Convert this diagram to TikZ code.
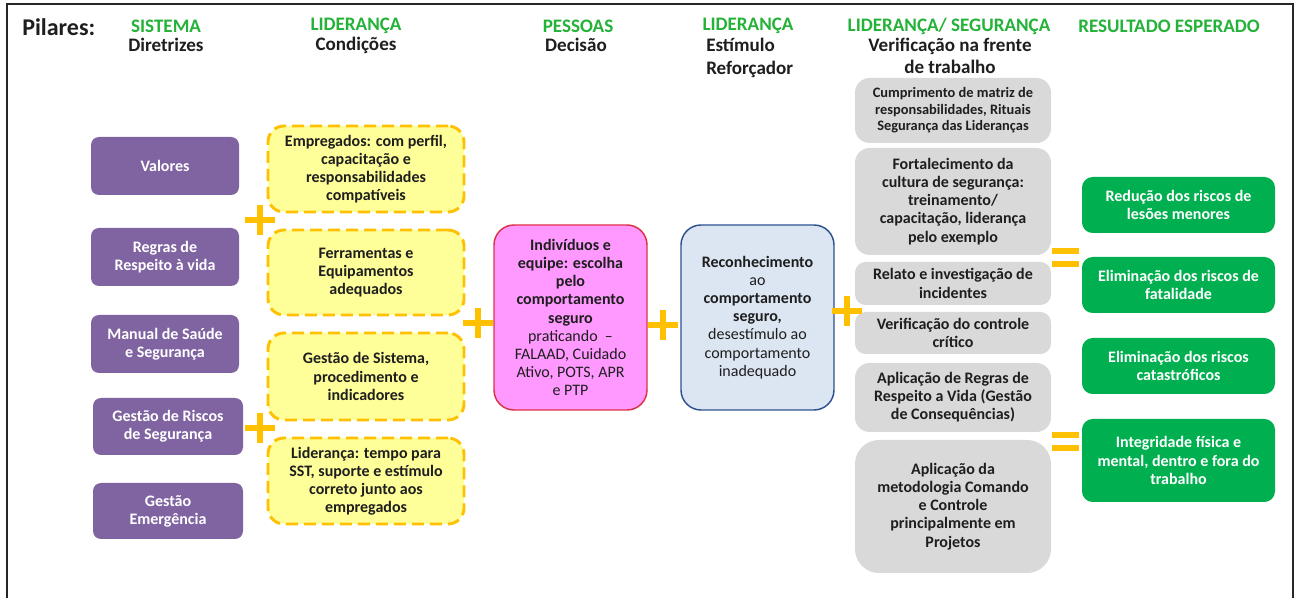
\documentclass[tikz,border=0pt]{standalone}
\usepackage{fontspec}
\setmainfont{Carlito}
\definecolor{purp}{RGB}{128,100,162}
\definecolor{ylwfill}{RGB}{255,255,153}
\definecolor{ylwline}{RGB}{255,192,0}
\definecolor{pinkfill}{RGB}{255,153,255}
\definecolor{pinkline}{RGB}{220,50,70}
\definecolor{bluefill}{RGB}{220,230,242}
\definecolor{blueline}{RGB}{47,82,143}
\definecolor{grayfill}{RGB}{217,217,217}
\definecolor{grnfill}{RGB}{0,176,80}
\definecolor{hdrgreen}{RGB}{36,178,56}
\definecolor{txt}{RGB}{30,30,30}
\newcommand{\bxfont}{\fontsize{12}{13.6}\selectfont\bfseries}
\newcommand{\smfont}{\fontsize{10.8}{12.5}\selectfont\bfseries}
\begin{document}
\begin{tikzpicture}[x=0.75pt,y=-0.75pt,
  bx/.style 2 args={minimum width=#1*0.75pt, minimum height=#2*0.75pt, inner sep=0pt, align=center},
  purpbox/.style={fill=purp, draw=none, rounded corners=6pt, text=white, font=\bxfont},
  ylwbox/.style={fill=ylwfill, draw=ylwline, line width=2.2pt, dash pattern=on 9pt off 4.5pt, rounded corners=12pt, text=txt, font=\bxfont},
  pinkbox/.style={fill=pinkfill, draw=pinkline, line width=1.1pt, rounded corners=15pt, text=txt, font=\bxfont},
  bluebox/.style={fill=bluefill, draw=blueline, line width=1.1pt, rounded corners=15pt, text=txt, font=\bxfont},
  graybox/.style={fill=grayfill, draw=none, rounded corners=11pt, text=txt, font=\bxfont},
  grnbox/.style={fill=grnfill, draw=none, rounded corners=8pt, text=white, font=\bxfont},
  hdr/.style={font=\fontsize{14.3}{16}\selectfont\bfseries, text=hdrgreen, inner sep=0pt},
  sub/.style={font=\fontsize{14.3}{16}\selectfont\bfseries, text=txt, inner sep=0pt},
  sign/.style={draw=ylwline, line width=3.8pt}
]
\useasboundingbox (0,0) rectangle (1297,598);
\fill[white] (0,0) rectangle (1297,598);
% frame
\coordinate (fbl) at (7,598);
\coordinate (ftl) at (7,4);
\coordinate (ftr) at (1293,4);
\coordinate (fbr) at (1293,598);
\draw[line width=1.1pt, black!85] (fbl) -- (ftl) -- (ftr) -- (fbr);

% headers
\node[font=\fontsize{18}{20}\selectfont\bfseries, text=txt, anchor=west, inner sep=0pt] (pil) at (22,27) {Pilares:};
\node[hdr] (h1) at (166,26) {SISTEMA};
\node[sub] (s1) at (166,45) {Diretrizes};
\node[hdr] (h2) at (356,26) {LIDERANÇA};
\node[sub] (s2) at (356,45) {Condições};
\node[hdr] (h3) at (578,26) {PESSOAS};
\node[sub] (s3) at (576,45) {Decisão};
\node[hdr] (h4) at (748,26) {LIDERANÇA};
\node[sub, anchor=north west, align=left, font=\fontsize{14.3}{17}\selectfont\bfseries] (s4) at (706,38) {Estímulo\\Reforçador};
\node[hdr] (h5) at (949,26) {LIDERANÇA/ SEGURANÇA};
\node[sub, anchor=north, align=center, font=\fontsize{14.3}{16}\selectfont\bfseries] (s5) at (950,38) {Verificação na frente\\de trabalho};
\node[hdr] (h6) at (1169,26) {RESULTADO ESPERADO};

% purple column
\node[purpbox, bx={148}{58}] (p1) at (165,166) {Valores};
\node[purpbox, bx={148}{58}] (p2) at (165,257) {Regras de\\Respeito à vida};
\node[purpbox, bx={148}{58}] (p3) at (165,344) {Manual de Saúde\\e Segurança};
\node[purpbox, bx={150}{57}] (p4) at (168,426.5) {Gestão de Riscos\\de Segurança};
\node[purpbox, bx={150}{56}] (p5) at (168,511) {Gestão\\Emergência};

% yellow column
\node[ylwbox, bx={196}{86}] (y1) at (366,169) {Empregados: com perfil,\\capacitação e\\responsabilidades\\compatíveis};
\node[ylwbox, bx={196}{85}] (y2) at (366,272.5) {Ferramentas e\\Equipamentos\\adequados};
\node[ylwbox, bx={196}{87}] (y3) at (366,376.5) {Gestão de Sistema,\\procedimento e\\indicadores};
\node[ylwbox, bx={196}{86}] (y4) at (366,481) {Liderança: tempo para\\SST, suporte e estímulo\\correto junto aos\\empregados};

% pink and blue
\node[pinkbox, bx={153}{185}] (pk) at (570.5,317.5) {Indivíduos e\\equipe: escolha\\pelo\\comportamento\\seguro\\\mdseries praticando \ –\\\mdseries FALAAD, Cuidado\\\mdseries Ativo, POTS, APR\\\mdseries e PTP};
\node[bluebox, bx={153}{185}] (bl) at (757.5,317.5) {Reconhecimento\\\mdseries ao\\comportamento\\seguro,\\\mdseries desestímulo ao\\\mdseries comportamento\\\mdseries inadequado};

% gray column
\node[graybox, bx={196}{65}, font=\smfont] (g1) at (953,110.5) {Cumprimento de matriz de\\responsabilidades, Rituais\\Segurança das Lideranças};
\node[graybox, bx={196}{107}] (g2) at (953,201.5) {Fortalecimento da\\cultura de segurança:\\treinamento/\\capacitação, liderança\\pelo exemplo};
\node[graybox, bx={196}{43}, rounded corners=8pt] (g3) at (953,283.5) {Relato e investigação de\\incidentes};
\node[graybox, bx={196}{42}, rounded corners=8pt] (g4) at (953,333) {Verificação do controle\\crítico};
\node[graybox, bx={196}{69}] (g5) at (953,397.5) {Aplicação de Regras de\\Respeito a Vida (Gestão\\de Consequências)};
\node[graybox, bx={196}{133}, rounded corners=18pt] (g6) at (953,506.5) {Aplicação da\\metodologia Comando\\e Controle\\principalmente em\\Projetos};

% green column
\node[grnbox, bx={193}{56}] (r1) at (1178.5,205) {Redução dos riscos de\\lesões menores};
\node[grnbox, bx={193}{56}] (r2) at (1178.5,285) {Eliminação dos riscos de\\fatalidade};
\node[grnbox, bx={193}{56}] (r3) at (1178.5,366) {Eliminação dos riscos\\catastróficos};
\node[grnbox, bx={193}{83}] (r4) at (1178.5,460.5) {Integridade física e\\mental, dentro e fora do\\trabalho};

% plus signs
\foreach \cx/\cy in {260/220, 478/323, 260/428, 663/325, 847/311}{
  \draw[sign] (\cx-15,\cy) -- (\cx+15,\cy);
  \draw[sign] (\cx,\cy-15) -- (\cx,\cy+15);
}
% equals signs
\foreach \cy in {251, 435}{
  \draw[sign] (1052,\cy) -- (1079,\cy);
  \draw[sign] (1052,\cy+13) -- (1079,\cy+13);
}
\end{tikzpicture}
\end{document}
